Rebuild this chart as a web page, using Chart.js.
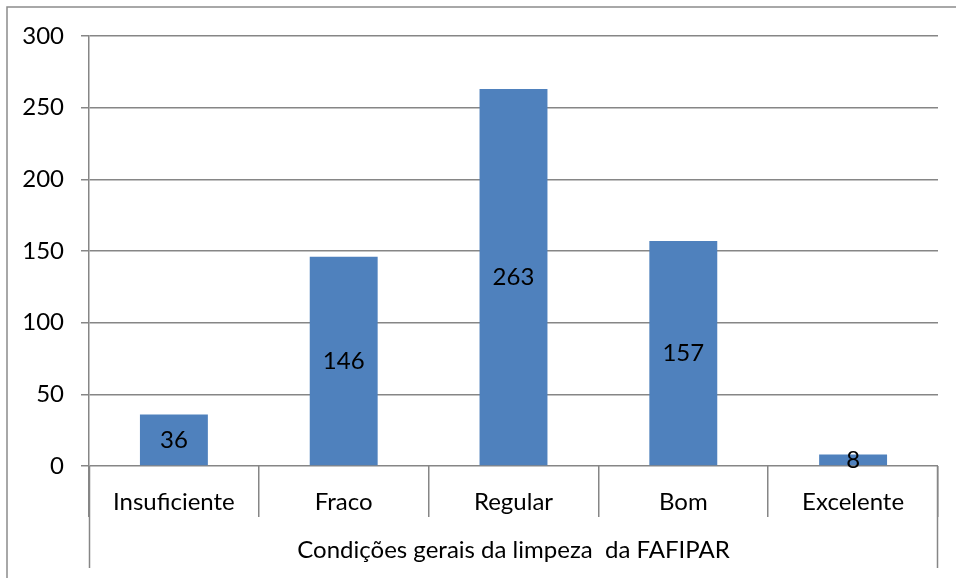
<!DOCTYPE html>
<html>
<head>
<meta charset="utf-8">
<script src="https://cdn.jsdelivr.net/npm/chart.js@4.4.1/dist/chart.umd.min.js"></script>
<style>
html,body{margin:0;padding:0;background:#fff;}
#wrap{width:956px;height:578px;position:relative;}
</style>
</head>
<body>
<div id="wrap"><canvas id="c" width="956" height="578"></canvas></div>
<script>
const categories = ["Insuficiente", "Fraco", "Regular", "Bom", "Excelente"];
const values = [36, 146, 263, 157, 8];
const axisTitle = "Condições gerais da limpeza  da FAFIPAR";
const yTicks = { min: 0, max: 300, step: 50 };

const FONT = "Lato, 'Open Sans', sans-serif";
const FSIZE = 24;
const GRID = "#868686";

const framePlugin = {
  id: 'frame',
  beforeDraw(chart) {
    const ctx = chart.ctx;
    ctx.save();
    ctx.fillStyle = '#fff';
    ctx.fillRect(0, 0, chart.width, chart.height);
    ctx.strokeStyle = '#8c8c8c';
    ctx.lineWidth = 1.5;
    ctx.strokeRect(7, 7, chart.width + 20, chart.height + 20);
    ctx.restore();
  },
  afterDraw(chart) {
    const ctx = chart.ctx;
    const a = chart.chartArea;
    ctx.save();
    ctx.strokeStyle = GRID;
    ctx.lineWidth = 1.5;
    ctx.beginPath();
    ctx.moveTo(Math.round(a.left) + 0.5, a.bottom);
    ctx.lineTo(Math.round(a.left) + 0.5, 568);
    ctx.moveTo(Math.round(a.right) - 0.5, a.bottom);
    ctx.lineTo(Math.round(a.right) - 0.5, 568);
    ctx.stroke();
    ctx.restore();
  }
};

const labelPlugin = {
  id: 'vlabels',
  afterDatasetsDraw(chart) {
    const ctx = chart.ctx;
    const meta = chart.getDatasetMeta(0);
    ctx.save();
    ctx.font = FSIZE + "px " + FONT;
    ctx.fillStyle = '#000';
    ctx.textAlign = 'center';
    ctx.textBaseline = 'middle';
    meta.data.forEach((bar, i) => {
      const y = (bar.y + bar.base) / 2;
      ctx.fillText(String(values[i]), bar.x, y);
    });
    ctx.restore();
  }
};

new Chart(document.getElementById('c'), {
  type: 'bar',
  data: {
    labels: categories,
    datasets: [{
      data: values,
      backgroundColor: '#4F81BD',
      borderWidth: 0,
      barPercentage: 0.4,
      categoryPercentage: 1.0
    }]
  },
  options: {
    responsive: false,
    animation: false,
    devicePixelRatio: 1,
    layout: { padding: { left: 7, top: 36, right: 18, bottom: 0 } },
    plugins: { legend: { display: false }, tooltip: { enabled: false } },
    scales: {
      y: {
        min: yTicks.min,
        max: yTicks.max,
        ticks: { stepSize: yTicks.step, color: '#000', font: { family: FONT, size: FSIZE }, padding: 17 },
        grid: { color: GRID, lineWidth: 1.5, tickLength: 8 },
        border: { color: GRID, width: 1.5 },
        afterFit(scale) { scale.width = 82; }
      },
      x: {
        grid: { display: true, offset: true, drawOnChartArea: false, drawTicks: true, tickLength: 51, color: GRID, lineWidth: 1.5 },
        border: { display: false },
        ticks: { color: '#000', font: { family: FONT, size: FSIZE }, padding: -29, maxRotation: 0 },
        title: { display: true, text: axisTitle, color: '#000', font: { family: FONT, size: FSIZE }, padding: { top: 0, bottom: 13 } },
        afterFit(scale) { scale.height = 112; }
      }
    }
  },
  plugins: [framePlugin, labelPlugin]
});
</script>
</body>
</html>
